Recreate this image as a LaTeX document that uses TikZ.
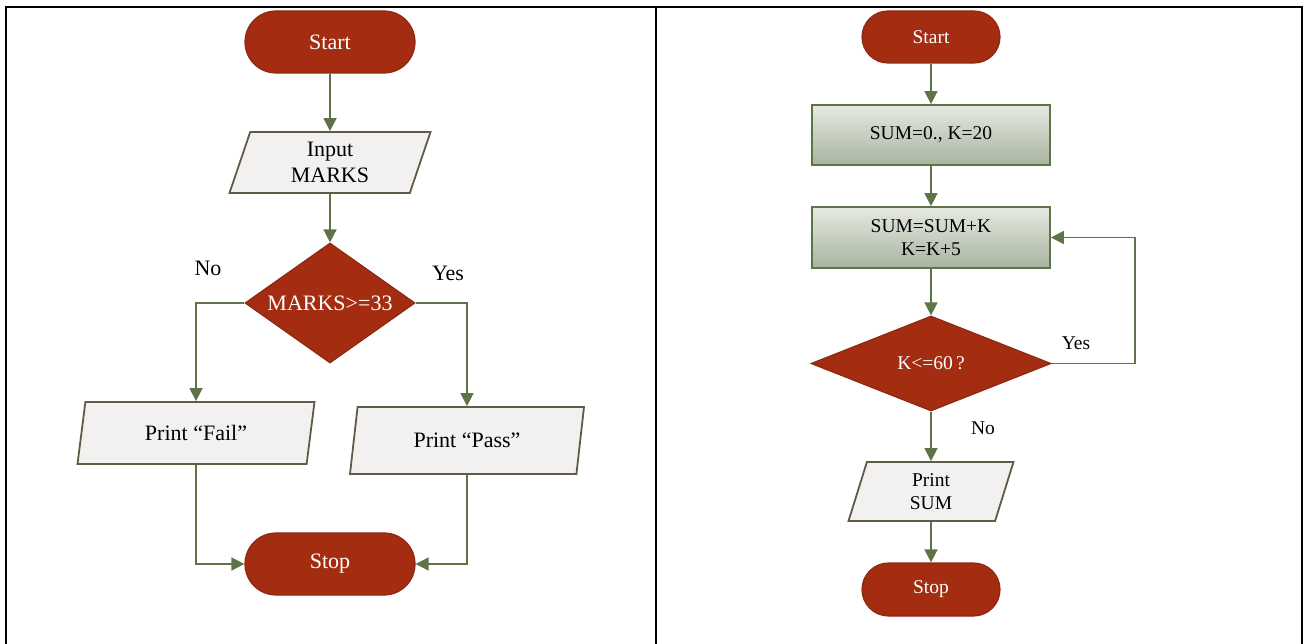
\documentclass[tikz,border=0pt]{standalone}
\usepackage{fontspec}
\setmainfont{Liberation Serif}
\usetikzlibrary{shapes.geometric,arrows.meta}
\definecolor{termred}{HTML}{A42C11}
\definecolor{termedge}{HTML}{8C2912}
\definecolor{iofill}{HTML}{F2F1EF}
\definecolor{ioedge}{HTML}{5F5B46}
\definecolor{flow}{HTML}{5F7446}
\definecolor{boxtop}{HTML}{E6E9E2}
\definecolor{boxbot}{HTML}{A8B49F}
\begin{document}
\begin{tikzpicture}[x=1pt,y=-1pt,
    big/.style={font=\fontsize{22}{26}\selectfont},
    small/.style={font=\fontsize{19.5}{23}\selectfont},
    term/.style={rectangle, draw=termedge, fill=termred, text=white, line width=1.2pt, inner sep=0pt},
    io/.style={trapezium, trapezium left angle=63, trapezium right angle=117, trapezium stretches body,
      draw=ioedge, fill=iofill, line width=1.8pt, inner sep=0pt, align=center},
    decision/.style={diamond, draw=termedge, fill=termred, text=white, line width=1.2pt, inner sep=0pt},
    process/.style={rectangle, draw=flow, top color=boxtop, bottom color=boxbot, line width=1.8pt,
      inner sep=0pt, align=center},
    flowline/.style={draw=flow, line width=1.6pt},
    arrow/.style={flowline, -{Triangle[length=13pt,width=13pt]}},
    frame/.style={draw=black, line width=2pt}]
  \useasboundingbox (0,0) rectangle (1306,644);

  \draw[frame] (5,7) -- (1303,7);
  \draw[frame] (6,6) -- (6,644);
  \draw[frame] (656,6) -- (656,644);
  \draw[frame] (1302,6) -- (1302,644);

  \node[term, big, minimum width=170pt, minimum height=62pt, rounded corners=31pt] (start) at (330,42) {Start};
  \node[io, big, minimum width=201pt, minimum height=61pt] (input) at (330,162.5) {Input\\MARKS};
  \node[decision, big, aspect=1.42, minimum width=170pt, minimum height=120pt] (check) at (330,303) {MARKS>=33};
  \node[io, big, minimum width=237pt, minimum height=62pt] (fail) at (196,433) {Print “Fail”};
  \node[io, big, minimum width=234pt, minimum height=67pt] (pass) at (467,440.5) {Print “Pass”};
  \node[term, big, minimum width=170pt, minimum height=62pt, rounded corners=31pt] (stop) at (330,564) {Stop};
  \node[big] (no) at (208,268) {No};
  \node[big] (yes) at (448,273) {Yes};

  \draw[arrow] (start) -- (input);
  \draw[arrow] (input) -- (check);
  \draw[arrow] (check.west) -| (fail.north);
  \draw[arrow] (check.east) -| (pass.north);
  \draw[arrow] (fail.south) |- (stop.west);
  \draw[arrow] (pass.south) |- (stop.east);

  \node[term, small, minimum width=138pt, minimum height=52pt, rounded corners=26pt] (start2) at (931,37) {Start};
  \node[process, small, minimum width=238pt, minimum height=60pt] (init) at (931,135) {SUM=0., K=20};
  \node[process, small, minimum width=238pt, minimum height=61pt] (body) at (931,237.5) {SUM=SUM+K\\K=K+5};
  \node[decision, small, aspect=2.5, minimum width=240pt, minimum height=95pt] (test) at (931,363.5) {K<=60\,?};
  \node[io, small, minimum width=165pt, minimum height=59pt] (out) at (931,491.5) {Print\\SUM};
  \node[term, small, minimum width=138pt, minimum height=53pt, rounded corners=26.5pt] (stop2) at (931,589.5) {Stop};
  \node[small] (yes2) at (1076,343) {Yes};
  \node[small] (no2) at (983,428) {No};
  \coordinate (loop) at (1135,363.5);

  \draw[arrow] (start2) -- (init);
  \draw[arrow] (init) -- (body);
  \draw[arrow] (body) -- (test);
  \draw[flowline] (test.east) -- (loop);
  \draw[arrow] (loop) |- (body.east);
  \draw[arrow] (test) -- (out);
  \draw[arrow] (out) -- (stop2);
\end{tikzpicture}
\end{document}
